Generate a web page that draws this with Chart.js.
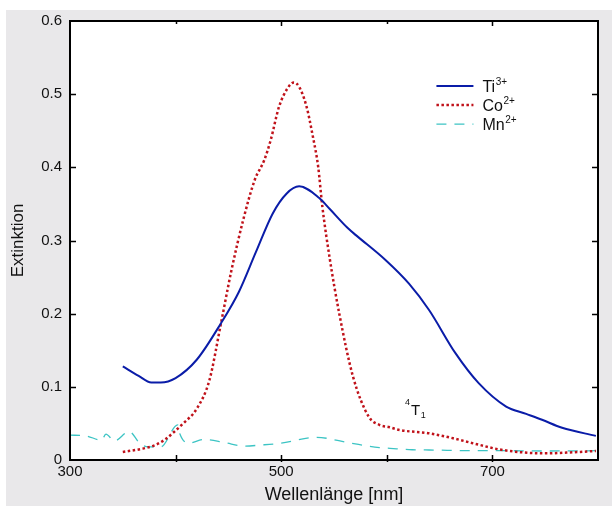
<!DOCTYPE html>
<html>
<head>
<meta charset="utf-8">
<script src="https://cdn.jsdelivr.net/npm/chart.js@4/dist/chart.umd.min.js"></script>
<style>
  html, body { margin: 0; padding: 0; background: #fff; }
  canvas { display: block; }
</style>
</head>
<body>
<canvas id="spectrum" width="612" height="506"></canvas>
<script>
// DATA
const tiWavelength = [350, 365, 377, 386, 400, 420, 443, 460, 476, 492, 505, 517, 536, 546, 563, 571, 599, 621, 640, 665, 687, 713, 732, 747, 766, 798];
const tiValues     = [0.128, 0.115, 0.106, 0.106, 0.112, 0.137, 0.187, 0.230, 0.284, 0.337, 0.364, 0.374, 0.358, 0.343, 0.317, 0.307, 0.273, 0.241, 0.205, 0.146, 0.105, 0.073, 0.063, 0.055, 0.044, 0.033];

const coWavelength = [350, 367, 380, 390, 399, 408, 420, 432, 443, 453, 464, 475, 484, 490, 498, 506, 512, 517, 524, 530, 535, 539, 546, 555, 568, 583, 593, 602, 612, 640, 662, 684, 706, 728, 750, 776, 798];
const coValues     = [0.011, 0.015, 0.020, 0.028, 0.039, 0.051, 0.070, 0.109, 0.187, 0.260, 0.328, 0.383, 0.410, 0.437, 0.483, 0.508, 0.516, 0.510, 0.483, 0.442, 0.401, 0.346, 0.275, 0.200, 0.114, 0.059, 0.048, 0.045, 0.041, 0.0365, 0.030, 0.022, 0.0146, 0.0105, 0.0091, 0.0105, 0.0123];

const mnWavelength = [300, 315, 330, 334, 342, 356, 366, 374, 386, 402, 404, 412, 427, 446, 465, 481, 500, 533, 566, 593, 603, 624, 640, 687, 714, 750, 798];
const mnValues     = [0.034, 0.033, 0.027, 0.0355, 0.026, 0.039, 0.023, 0.018, 0.018, 0.048, 0.036, 0.023, 0.028, 0.024, 0.019, 0.0205, 0.023, 0.031, 0.023, 0.017, 0.016, 0.014, 0.0137, 0.0127, 0.0127, 0.0123, 0.0127];

const seriesLabels = [["Ti", "3+"], ["Co", "2+"], ["Mn", "2+"]];
const xTickLabels = [300, 500, 700];
const yTicks = [0, 0.1, 0.2, 0.3, 0.4, 0.5, 0.6];
const bandLabel = ["4", "T", "1"];
const bandPos = [623, 0.068];
const legendPos = [647, 0.511];

const FONT = "'Liberation Sans', Arial, Helvetica, sans-serif";
const BLUE = "#0a1ca8", RED = "#c0121a", CYAN = "#3cc4c4", GREY = "#e9e8ea";

function points(xs, ys) {
	return xs.map((x, i) => ({ x: x, y: ys[i] }));
}

// background, frame, inward ticks
const framePlugin = {
	id: "frame",
	beforeDraw(chart) {
		const c = chart.ctx, a = chart.chartArea;
		c.save();
		c.fillStyle = "#fff";
		c.fillRect(0, 0, chart.width, chart.height);
		c.fillStyle = GREY;
		c.fillRect(6, 10, chart.width - 6, chart.height - 10);
		c.fillStyle = "#fff";
		c.fillRect(a.left, a.top, a.right - a.left, a.bottom - a.top);
		c.restore();
	},
	afterDraw(chart) {
		const c = chart.ctx, a = chart.chartArea;
		const xs = chart.scales.x, ys = chart.scales.y;
		c.save();
		c.strokeStyle = "#000";
		c.lineWidth = 1.5;
		yTicks.slice(1, -1).forEach(v => {
			const py = Math.round(ys.getPixelForValue(v)) + 0.5;
			c.beginPath();
			c.moveTo(a.left, py); c.lineTo(a.left + 6, py);
			c.moveTo(a.right, py); c.lineTo(a.right - 6, py);
			c.stroke();
		});
		[400, 500, 600, 700].forEach(v => {
			const px = Math.round(xs.getPixelForValue(v)) + 0.5;
			const big = xTickLabels.includes(v);
			c.beginPath();
			c.moveTo(px, a.bottom + 2); c.lineTo(px, a.bottom - 5);
			c.moveTo(px, a.top); c.lineTo(px, a.top + (big ? 5 : 3));
			c.stroke();
		});
		c.lineWidth = 2;
		c.strokeRect(a.left, a.top, a.right - a.left, a.bottom - a.top);
		c.restore();
	}
};

// legend with superscripts + 4T1 label
function supText(c, x, y, main, sup, sub, size) {
	c.font = size + "px " + FONT;
	c.fillText(main, x, y);
	let w = c.measureText(main).width;
	c.font = Math.round(size * 0.6) + "px " + FONT;
	if (sup) c.fillText(sup, x + w + 0.5, y - size * 0.45);
	if (sub) c.fillText(sub, x + w + 0.5, y + size * 0.2);
}

const legendPlugin = {
	id: "customLegend",
	afterDatasetsDraw(chart) {
		const c = chart.ctx;
		const xs = chart.scales.x, ys = chart.scales.y;
		const lx = xs.getPixelForValue(legendPos[0]), ly = ys.getPixelForValue(legendPos[1]);
		c.save();
		c.textBaseline = "alphabetic";
		chart.data.datasets.forEach((ds, i) => {
			const y = ly + i * 19;
			c.strokeStyle = ds.borderColor;
			c.lineWidth = ds.borderWidth;
			c.setLineDash(ds.borderDash || []);
			c.beginPath();
			c.moveTo(lx, y); c.lineTo(lx + 37, y);
			c.stroke();
			c.setLineDash([]);
			c.fillStyle = "#111";
			supText(c, lx + 46, y + 6, seriesLabels[i][0], seriesLabels[i][1], null, 16);
		});
		// band label
		const bx = xs.getPixelForValue(bandPos[0]), by = ys.getPixelForValue(bandPos[1]);
		c.fillStyle = "#111";
		c.font = "9px " + FONT;
		c.fillText(bandLabel[0], bx - 6, by - 5);
		supText(c, bx, by + 5, bandLabel[1], null, bandLabel[2], 15);
		c.restore();
	}
};

const ctx = document.getElementById("spectrum").getContext("2d");

new Chart(ctx, {
	type: "line",
	data: {
		datasets: [{
			label: "Ti3+",
			data: points(tiWavelength, tiValues),
			borderColor: BLUE,
			borderWidth: 2,
			pointRadius: 0,
			fill: false,
			cubicInterpolationMode: "monotone"
		}, {
			label: "Co2+",
			data: points(coWavelength, coValues),
			borderColor: RED,
			borderWidth: 2.5,
			borderDash: [2.5, 2.5],
			pointRadius: 0,
			fill: false,
			cubicInterpolationMode: "monotone"
		}, {
			label: "Mn2+",
			data: points(mnWavelength, mnValues),
			borderColor: CYAN,
			borderWidth: 1.3,
			borderDash: [10, 8],
			pointRadius: 0,
			fill: false,
			cubicInterpolationMode: "monotone"
		}]
	},
	options: {
		responsive: false,
		animation: false,
		layout: { padding: { left: 6, top: 21, right: 14, bottom: 0 } },
		plugins: { legend: { display: false }, tooltip: { enabled: false } },
		scales: {
			x: {
				type: "linear",
				min: 300,
				max: 800,
				grid: { display: false, drawTicks: false },
				border: { display: false },
				ticks: {
					stepSize: 100,
					padding: 3,
					autoSkip: false,
					maxRotation: 0,
					color: "#111",
					font: { family: FONT, size: 15 },
					callback: v => xTickLabels.includes(v) ? String(v) : ""
				},
				title: {
					display: true,
					text: "Wellenlänge [nm]",
					color: "#111",
					font: { family: FONT, size: 18 },
					padding: { top: 3, bottom: 0 }
				},
				afterFit: s => { s.height = 46; }
			},
			y: {
				min: 0,
				max: 0.6,
				grid: { display: false, drawTicks: false },
				border: { display: false },
				ticks: {
					stepSize: 0.1,
					padding: 8,
					color: "#111",
					font: { family: FONT, size: 15 },
					callback: v => yTicks.includes(Math.round(v * 10) / 10) ? String(Math.round(v * 10) / 10) : ""
				},
				title: {
					display: true,
					text: "Extinktion",
					color: "#111",
					font: { family: FONT, size: 17 },
					padding: { top: 2, bottom: 0 }
				},
				afterFit: s => { s.width = 64; }
			}
		}
	},
	plugins: [framePlugin, legendPlugin]
});
</script>
</body>
</html>
